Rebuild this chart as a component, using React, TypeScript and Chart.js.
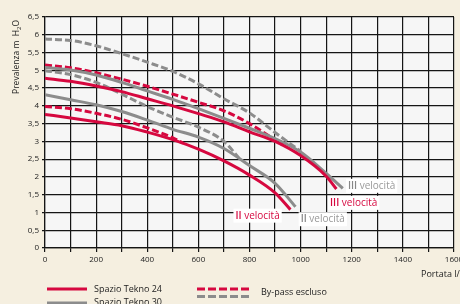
import React, { useEffect, useRef } from 'react';
import { Chart, registerables } from 'chart.js';

Chart.register(...registerables);

// ---- data (portata l/h -> prevalenza m H2O) ----
const red24_III_flow = [0, 100, 200, 300, 400, 500, 600, 700, 800, 900, 1000, 1100, 1140];
const red24_III_head = [4.78, 4.69, 4.56, 4.4, 4.2, 4.0, 3.78, 3.55, 3.27, 3.0, 2.6, 2.02, 1.66];

const red24_III_bypass_flow = [0, 100, 200, 300, 400, 500, 600, 700, 800, 900, 930];
const red24_III_bypass_head = [5.15, 5.07, 4.93, 4.75, 4.55, 4.33, 4.1, 3.86, 3.5, 3.04, 2.9];

const red24_II_flow = [0, 100, 200, 300, 400, 500, 600, 700, 800, 900, 960];
const red24_II_head = [3.76, 3.66, 3.55, 3.44, 3.26, 3.05, 2.78, 2.45, 2.05, 1.55, 1.08];

const red24_II_bypass_flow = [0, 100, 200, 300, 400, 500, 540];
const red24_II_bypass_head = [3.98, 3.92, 3.79, 3.62, 3.38, 3.1, 2.95];

const grey30_III_flow = [0, 100, 200, 300, 400, 500, 600, 700, 800, 900, 1000, 1100, 1165];
const grey30_III_head = [5.08, 5.01, 4.87, 4.66, 4.42, 4.18, 3.92, 3.65, 3.37, 3.08, 2.7, 2.1, 1.68];

const grey30_III_bypass_flow = [0, 100, 200, 300, 400, 500, 600, 700, 800, 900, 1000];
const grey30_III_bypass_head = [5.88, 5.84, 5.69, 5.47, 5.23, 4.97, 4.62, 4.2, 3.8, 3.25, 2.72];

const grey30_II_flow = [0, 100, 200, 300, 400, 500, 600, 700, 800, 900, 980];
const grey30_II_head = [4.31, 4.17, 4.03, 3.84, 3.6, 3.34, 3.12, 2.8, 2.32, 1.82, 1.16];

const grey30_II_bypass_flow = [0, 100, 200, 300, 400, 500, 600, 700, 760];
const grey30_II_bypass_head = [4.99, 4.88, 4.66, 4.33, 3.98, 3.68, 3.4, 3.0, 2.52];

const xTickStep = 100;
const xLabelEvery = 200;
const yTickStep = 0.5;

const legendLabels = ['Spazio Tekno 24', 'Spazio Tekno 30', 'By-pass escluso'];
const yTitle = ['Prevalenza m  H', '2', 'O'];
const xTitle = 'Portata l/h';

// curve labels: [roman, word, colour key, flow, head]
const curveLabels: [string, string, string, number, number][] = [
  ['III', ' velocità', 'grey', 1185, 1.75],
  ['III', ' velocità', 'red', 1115, 1.27],
  ['II', ' velocità', 'red', 745, 0.91],
  ['II', ' velocità', 'grey', 1000, 0.81],
];

const RED = '#d6083f';
const GREY = '#8c8c8c';
const GREY_TEXT = '#999999';
const BEIGE = '#f5efe0';
const PLOT_BG = '#f6f6f6';
const GRID = '#151515';
const FONT = "'Open Sans', sans-serif";

function pts(xs: number[], ys: number[]) {
  return xs.map((x, i) => ({ x, y: ys[i] }));
}

export default function App() {
  const ref = useRef<HTMLCanvasElement>(null);

  useEffect(() => {
    const canvas = ref.current!;

    const deco = {
      id: 'deco',
      beforeDraw(chart: any) {
        const { ctx, chartArea: a } = chart;
        ctx.save();
        ctx.fillStyle = BEIGE;
        ctx.fillRect(0, 0, chart.width, chart.height);
        ctx.fillStyle = PLOT_BG;
        ctx.fillRect(a.left, a.top, a.right - a.left, a.bottom - a.top);
        ctx.restore();
      },
      afterDraw(chart: any) {
        const { ctx } = chart;
        const xs = chart.scales.x;
        const ys = chart.scales.y;
        ctx.save();

        // curve labels
        for (const [roman, word, col, fx, fy] of curveLabels) {
          const px = xs.getPixelForValue(fx);
          const py = ys.getPixelForValue(fy);
          ctx.font = `600 10px ${FONT}`;
          const w1 = ctx.measureText(roman).width;
          ctx.font = `400 10px ${FONT}`;
          const w2 = ctx.measureText(word).width;
          ctx.fillStyle = '#ffffff';
          ctx.fillRect(px - 2, py - 7, w1 + w2 + 4, 14);
          ctx.textBaseline = 'middle';
          ctx.textAlign = 'left';
          ctx.fillStyle = col === 'red' ? RED : GREY_TEXT;
          ctx.font = `600 10px ${FONT}`;
          if (col === 'grey') ctx.fillStyle = '#888888';
          ctx.fillText(roman, px, py);
          ctx.fillStyle = col === 'red' ? RED : GREY_TEXT;
          ctx.font = `400 10px ${FONT}`;
          ctx.fillText(word, px + w1, py);
        }

        // y title (rotated, with subscript)
        ctx.font = `400 8.5px ${FONT}`;
        const a1 = ctx.measureText(yTitle[0]).width;
        ctx.font = `400 6px ${FONT}`;
        const a2 = ctx.measureText(yTitle[1]).width;
        ctx.font = `400 8.5px ${FONT}`;
        const a3 = ctx.measureText(yTitle[2]).width;
        const W = a1 + a2 + a3;
        ctx.translate(17, 20);
        ctx.rotate(-Math.PI / 2);
        ctx.fillStyle = '#222';
        ctx.textAlign = 'left';
        ctx.textBaseline = 'middle';
        ctx.font = `400 8.5px ${FONT}`;
        ctx.fillText(yTitle[0], -W, 0);
        ctx.font = `400 6px ${FONT}`;
        ctx.fillText(yTitle[1], -W + a1, 2.5);
        ctx.font = `400 8.5px ${FONT}`;
        ctx.fillText(yTitle[2], -W + a1 + a2, 0);
        ctx.setTransform(1, 0, 0, 1, 0, 0);

        // x title
        ctx.fillStyle = '#222';
        ctx.font = `400 9px ${FONT}`;
        ctx.textAlign = 'left';
        ctx.textBaseline = 'middle';
        ctx.fillText(xTitle, 421, 274);

        // legend
        const line = (x1: number, x2: number, y: number, c: string, dash: number[]) => {
          ctx.beginPath();
          ctx.setLineDash(dash);
          ctx.strokeStyle = c;
          ctx.lineWidth = 3;
          ctx.moveTo(x1, y);
          ctx.lineTo(x2, y);
          ctx.stroke();
        };
        line(47, 87, 289, RED, []);
        line(47, 87, 303, GREY, []);
        line(197, 251, 289, RED, [8, 3]);
        line(197, 251, 296.5, GREY, [8, 3]);
        ctx.setLineDash([]);
        ctx.fillStyle = '#222';
        ctx.font = `400 9px ${FONT}`;
        ctx.fillText(legendLabels[0], 94, 289);
        ctx.fillText(legendLabels[1], 94, 302);
        ctx.fillText(legendLabels[2], 261, 292.5);

        ctx.restore();
      },
    };

    const base = {
      borderWidth: 3,
      pointRadius: 0,
      fill: false,
      tension: 0.4,
      cubicInterpolationMode: 'monotone' as const,
      borderCapStyle: 'butt' as const,
    };
    const dash = [7, 3];

    const chart = new Chart(canvas, {
      type: 'line',
      data: {
        datasets: [
          { ...base, data: pts(grey30_III_bypass_flow, grey30_III_bypass_head), borderColor: GREY, borderDash: dash, order: 6 },
          { ...base, data: pts(grey30_II_bypass_flow, grey30_II_bypass_head), borderColor: GREY, borderDash: dash, order: 6 },
          { ...base, data: pts(red24_III_bypass_flow, red24_III_bypass_head), borderColor: RED, borderDash: dash, order: 5 },
          { ...base, data: pts(red24_II_bypass_flow, red24_II_bypass_head), borderColor: RED, borderDash: dash, order: 5 },
          { ...base, data: pts(grey30_III_flow, grey30_III_head), borderColor: GREY, order: 2 },
          { ...base, data: pts(grey30_II_flow, grey30_II_head), borderColor: GREY, order: 2 },
          { ...base, data: pts(red24_III_flow, red24_III_head), borderColor: RED, order: 1 },
          { ...base, data: pts(red24_II_flow, red24_II_head), borderColor: RED, order: 1 },
        ],
      },
      options: {
        responsive: false,
        animation: false,
        devicePixelRatio: 1,
        layout: { padding: { top: 17, right: 6, left: 0, bottom: 0 } },
        plugins: { legend: { display: false }, tooltip: { enabled: false } },
        scales: {
          x: {
            type: 'linear',
            min: 0,
            max: 1600,
            afterFit(scale: any) {
              scale.height = 56;
              scale.paddingLeft = 0;
              scale.paddingRight = 0;
            },
            grid: { color: GRID, lineWidth: 1.2, tickLength: 4 },
            border: { color: GRID, width: 1.2 },
            ticks: {
              stepSize: xTickStep,
              autoSkip: false,
              maxRotation: 0,
              padding: 3,
              color: '#222',
              font: { family: FONT, size: 8 },
              callback: (v: any) => (Number(v) % xLabelEvery === 0 ? String(v) : ''),
            },
          },
          y: {
            type: 'linear',
            min: 0,
            max: 6.5,
            afterFit(scale: any) {
              scale.width = 45;
              scale.paddingTop = 0;
              scale.paddingBottom = 0;
            },
            grid: { color: GRID, lineWidth: 1.2, tickLength: 3 },
            border: { color: GRID, width: 1.2 },
            ticks: {
              stepSize: yTickStep,
              padding: 3,
              color: '#222',
              font: { family: FONT, size: 8 },
              callback: (v: any) => String(v).replace('.', ','),
            },
          },
        },
      },
      plugins: [deco],
    });

    return () => chart.destroy();
  }, []);

  return (
    <div style={{ position: 'absolute', left: 0, top: 0, width: 460, height: 304 }}>
      <canvas ref={ref} width={460} height={304} style={{ display: 'block' }} />
    </div>
  );
}
